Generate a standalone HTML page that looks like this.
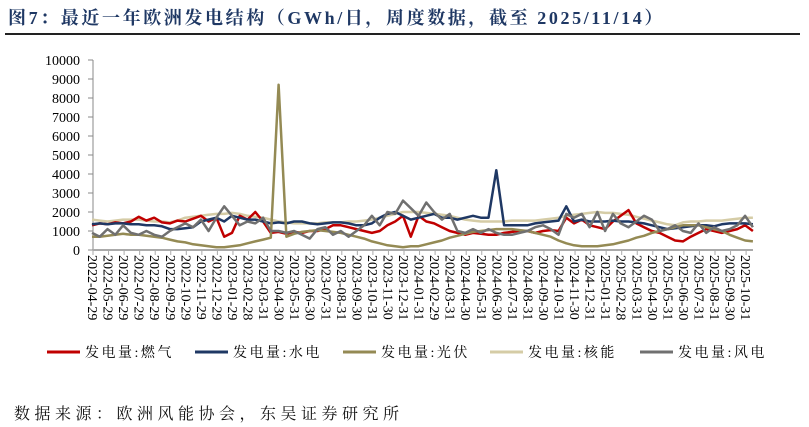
<!DOCTYPE html>
<html><head><meta charset="utf-8"><style>
body{margin:0;background:#fff;width:809px;height:427px;overflow:hidden;font-family:"Liberation Serif","Noto Serif CJK SC",serif;}
#title{position:absolute;left:8px;top:4px;font-size:18px;letter-spacing:2.6px;font-weight:bold;color:#1F3864;font-family:"Liberation Serif","Noto Serif CJK SC",serif;white-space:nowrap;}
#rule{position:absolute;left:5px;top:33px;width:795px;height:2px;background:#222;}
#src{position:absolute;left:14px;top:401px;font-size:16px;letter-spacing:4.5px;color:#111;font-family:"Liberation Serif","Noto Serif CJK SC",serif;white-space:nowrap;}
svg{position:absolute;left:0;top:0;}
</style></head><body>
<div id="title">图7：最近一年欧洲发电结构（GWh/日，周度数据，截至 2025/11/14）</div>
<div id="rule"></div>
<svg id="chart" width="809" height="427"></svg>
<div id="src">数据来源：欧洲风能协会，东吴证券研究所</div>
<script>
const monthLabels=["2022-04-29","2022-05-29","2022-06-29","2022-07-29","2022-08-29","2022-09-29","2022-10-29","2022-11-29","2022-12-29","2023-01-29","2023-02-28","2023-03-31","2023-04-30","2023-05-31","2023-06-30","2023-07-31","2023-08-31","2023-09-30","2023-10-31","2023-11-30","2023-12-31","2024-01-31","2024-02-29","2024-03-31","2024-04-30","2024-05-31","2024-06-30","2024-07-31","2024-08-31","2024-09-30","2024-10-31","2024-11-30","2024-12-31","2025-01-31","2025-02-28","2025-03-31","2025-04-30","2025-05-31","2025-06-30","2025-07-31","2025-08-31","2025-09-30","2025-10-31"];
const yTicks=[0,1000,2000,3000,4000,5000,6000,7000,8000,9000,10000];
const gas=[1300,1400,1350,1450,1400,1500,1750,1550,1700,1450,1400,1550,1500,1650,1800,1500,1700,700,900,1800,1600,2000,1500,900,950,850,950,900,1000,1000,1100,1300,1300,1200,1100,1000,900,1000,1300,1500,1800,700,1800,1500,1400,1200,1000,900,800,900,850,800,800,900,950,1000,1000,900,1000,1050,1000,1700,1400,1600,1300,1200,1100,1500,1800,2100,1400,1200,1000,900,700,500,450,700,900,1100,1000,900,1000,1100,1300,1000];
const hydro=[1350,1400,1350,1400,1400,1350,1350,1300,1300,1250,1100,1100,1150,1200,1500,1600,1700,1500,1800,1700,1600,1600,1500,1400,1450,1400,1500,1500,1400,1350,1400,1450,1450,1400,1300,1300,1400,1700,1900,2000,1800,1600,1700,1800,1900,1700,1700,1600,1700,1800,1700,1700,4200,1300,1300,1300,1300,1400,1450,1500,1550,2300,1500,1600,1500,1500,1500,1550,1500,1500,1450,1400,1300,1200,1100,1150,1200,1250,1300,1300,1250,1350,1400,1400,1400,1350];
const solar=[700,700,750,800,850,800,800,750,700,650,550,450,400,300,250,200,150,150,200,250,350,450,550,650,8700,700,850,950,1000,1050,1000,950,900,800,700,600,450,350,250,200,150,200,200,300,400,500,650,750,850,950,1000,1050,1100,1100,1100,1050,1000,900,800,700,500,350,250,200,200,200,250,300,400,500,650,750,900,1000,1100,1200,1300,1300,1300,1200,1100,1000,800,650,500,450];
const nuclear=[1600,1550,1500,1550,1600,1600,1600,1550,1500,1500,1450,1550,1700,1750,1800,1850,1900,1900,1950,1900,1800,1750,1700,1600,1500,1450,1400,1400,1400,1400,1450,1450,1450,1500,1500,1550,1600,1700,1800,1900,2000,2000,2000,1950,1900,1850,1800,1700,1600,1550,1500,1500,1500,1500,1550,1550,1550,1550,1600,1650,1700,1800,1850,1900,1950,2000,1950,1950,1900,1850,1750,1650,1550,1450,1350,1300,1450,1500,1500,1550,1550,1550,1600,1650,1700,1700];
const wind=[900,700,1100,800,1300,900,800,1000,800,700,1000,1200,1400,1200,1600,1000,1700,2300,1800,1300,1500,1400,1700,1000,1000,900,1000,800,600,1100,1200,800,1000,700,1000,1300,1800,1300,2000,1900,2600,2200,1800,2500,2000,1600,1900,1000,900,1100,900,1100,900,800,800,900,1000,1200,1300,1100,800,1900,1700,1900,1200,2000,1000,1900,1400,1200,1500,1800,1600,1000,1100,1300,1000,900,1400,900,1200,1000,1100,1300,1800,1200];
const seriesNames=["发电量:燃气","发电量:水电","发电量:光伏","发电量:核能","发电量:风电"];
const seriesData=[gas,hydro,solar,nuclear,wind];
const seriesKeys=["gas","hydro","solar","nuclear","wind"];
const colors=["#C00000","#1F3864","#948A54","#D5CCA6","#707070"];
const NS="http://www.w3.org/2000/svg";
const svg=document.getElementById('chart');
const X0=92,X1=753,Y0=250,YT=60,mw=15.55;
const xm=m=>X0+m*mw;
const yv=v=>Y0-(v/10000)*(Y0-YT);
function mk(t,a,p){const e=document.createElementNS(NS,t);for(const k in a)e.setAttribute(k,a[k]);(p||svg).appendChild(e);return e;}
let ya=mk('line',{x1:93,y1:YT,x2:93,y2:Y0,stroke:'#888','stroke-width':1});


yTicks.forEach(v=>{
 const tk=mk('line',{x1:88,x2:93,y1:yv(v),y2:yv(v),stroke:'#888'});
 
 
 const t=mk('text',{x:80,y:yv(v)+5,'text-anchor':'end','font-size':14,fill:'#000','font-family':'Liberation Serif, serif'});
 t.textContent=v;
 
 
});
let xa=mk('line',{x1:93,y1:Y0,x2:X1,y2:Y0,stroke:'#aaa','stroke-width':2});


monthLabels.forEach((l,i)=>{
 const x=xm(i)+1;
 const tk=mk('line',{x1:x,x2:x,y1:Y0,y2:Y0+5,stroke:'#aaa'});
 
 
 const t=mk('text',{x:0,y:0,'font-size':14,fill:'#000','font-family':'Liberation Serif, serif',transform:`translate(${x-5},255) rotate(90)`});
 t.textContent=l;
 
 
});
const order=[3,0,1,2,4];
order.forEach(s=>{
 const d=seriesData[s];
 const pts=d.map((v,i)=>xm(i*0.5).toFixed(1)+','+yv(v).toFixed(1)).join(' ');
 const p=mk('polyline',{points:pts,fill:'none',stroke:colors[s],'stroke-width':2.5,'stroke-linejoin':'round'});
 
 
});
const lx=[47,195,343,490,640];
seriesNames.forEach((n,i)=>{
 const g=mk('g',{});
 
 
 mk('line',{x1:lx[i],x2:lx[i]+33,y1:352,y2:352,stroke:colors[i],'stroke-width':3},g);
 const t=mk('text',{x:lx[i]+38,y:357,'font-size':14,'letter-spacing':2.5,fill:'#000','font-family':'Liberation Serif, Noto Serif CJK SC, serif'},g);
 t.textContent=n;
});
</script>
</body></html>
